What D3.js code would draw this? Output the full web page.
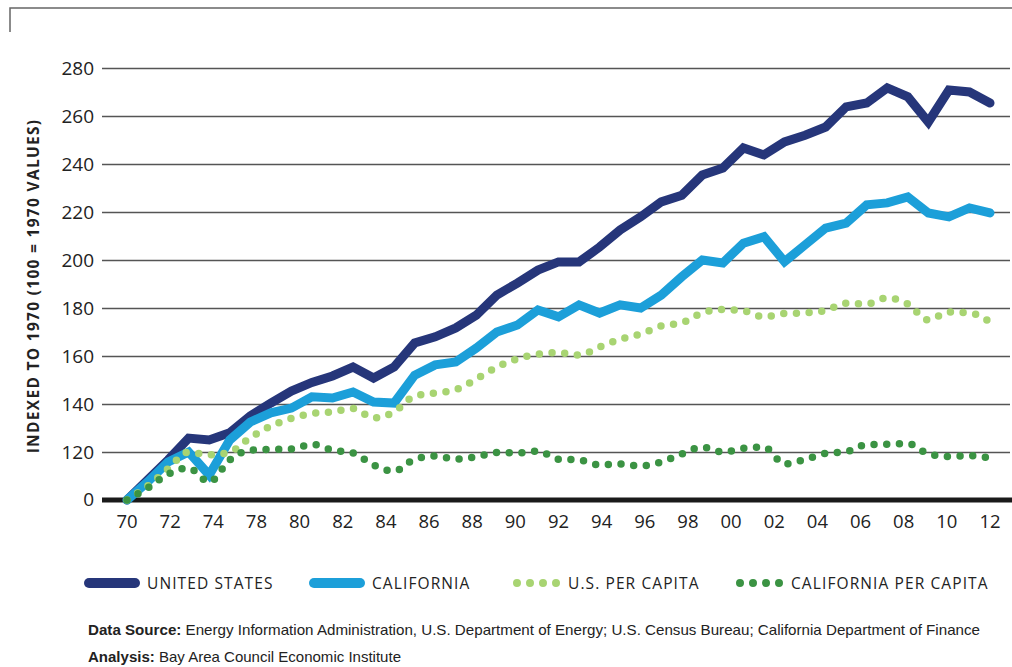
<!DOCTYPE html>
<html lang="en">
  <head>
    <meta charset="utf-8">
    <title>Energy Consumption Indexed to 1970</title>
    <script src="https://cdn.jsdelivr.net/npm/d3@7"></script>
    <style>
      body { margin: 0; background: #fff; }
      svg { display: block; font-family: "Open Sans", sans-serif; }
    </style>
  </head>
  <body>
    <svg width="1012" height="667"></svg>
    <script>

      // yearly values, 1970..2012, indexed to 1970 = 100
      var years = d3.range(1970, 2013);

      var unitedStates = [100, 108.3, 116.7, 125.8, 125, 128, 135, 140.4, 145.4, 149,
        151.7, 155.4, 150.8, 155.4, 165.4, 168, 171.7, 177, 185.4, 190.4,
        195.8, 199.2, 199.2, 205.4, 212.5, 218, 224.2, 227, 235.4, 238.3,
        246.7, 243.8, 249.2, 252, 255.4, 263.8, 265.4, 271.7, 268, 257.5,
        270.8, 270, 265.4];

      var california = [100, 107.5, 115.8, 120, 110.4, 125, 132.5, 136.3, 138.3, 143,
        142.5, 145, 140.8, 140.4, 152, 156.3, 157.5, 163.3, 170, 172.9,
        179.2, 176.3, 181.3, 177.9, 181.3, 180, 185.4, 193, 200, 198.8,
        207, 209.7, 199.3, 206.3, 213.3, 215.4, 223, 223.8, 226.3, 219.6,
        218, 221.7, 219.6];

      var usPerCapita = [100, 105.8, 113, 120, 118.8, 120, 126, 130.8, 134, 136,
        136.7, 138.1, 134.2, 136.7, 143.3, 144.6, 146, 150.4, 155.4, 158.8,
        160.8, 161.4, 160.4, 163.8, 167, 169.2, 172.5, 173.8, 178, 179.4,
        178.8, 176.3, 177.7, 178, 179, 182, 181.7, 184.2, 181.7, 175,
        178.3, 178, 174.2];

      var caPerCapita = [100, 105, 110.8, 113.3, 107.5, 116.7, 120.8, 121.1, 121.2, 123.2,
        120.8, 119.6, 114.6, 112, 117, 118.3, 117, 118, 119.8, 119.6,
        120.4, 117, 116.7, 114.6, 115, 114.2, 115.8, 119.2, 122, 120,
        121.5, 122, 115, 116.9, 119.4, 120.1, 123.1, 123.2, 123.5, 119.2,
        118.1, 118.5, 117.5];

      var xTickLabels = ["70", "72", "74", "78", "80", "82", "84", "86", "88", "90", "92",
        "94", "96", "98", "00", "02", "04", "06", "08", "10", "12"];
      var yTicks = [100, 120, 140, 160, 180, 200, 220, 240, 260, 280];
      var yTickLabels = ["0", "120", "140", "160", "180", "200", "220", "240", "260", "280"];

      var seriesNames = ["UNITED STATES", "CALIFORNIA", "U.S. PER CAPITA", "CALIFORNIA PER CAPITA"];
      var seriesColors = ["#26367a", "#1c9fd9", "#a8d472", "#3b9343"];

      var svg = d3.select("svg");

      var x = d3.scaleLinear().domain([1970, 2012]).range([127, 990]);
      var xTick = d3.scalePoint().domain(xTickLabels).range([127, 990]);
      var y = d3.scaleLinear().domain([100, 280]).range([500, 68]);

      // corner frame
      svg.append("path")
          .attr("d", "M10,32V8H1012")
          .attr("fill", "none")
          .attr("stroke", "#666")
          .attr("stroke-width", 1.5);

      // gridlines + y labels
      var yAxis = d3.axisLeft(y)
          .tickValues(yTicks.slice(1))
          .tickSize(-908)
          .tickFormat(function(d) { return yTickLabels[yTicks.indexOf(d)]; });

      var gy = svg.append("g")
          .attr("transform", "translate(102,0)")
          .call(yAxis);
      gy.select(".domain").remove();
      gy.selectAll(".tick line").attr("stroke", "#555").attr("stroke-width", 1.4);
      gy.selectAll(".tick text")
          .attr("x", -8)
          .attr("fill", "#222")
          .style("font-size", "19px")
          .style("font-family", "Open Sans, sans-serif");

      // zero label and heavy baseline
      svg.append("text")
          .attr("x", 94)
          .attr("y", y(100))
          .attr("dy", "0.34em")
          .attr("text-anchor", "end")
          .attr("fill", "#222")
          .style("font-size", "19px")
          .text(yTickLabels[0]);

      svg.append("line")
          .attr("x1", 102).attr("x2", 1012)
          .attr("y1", y(100)).attr("y2", y(100))
          .attr("stroke", "#1a1a1a")
          .attr("stroke-width", 5);

      // x labels
      svg.append("g")
        .selectAll("text")
        .data(xTickLabels)
        .enter().append("text")
          .attr("x", function(d) { return xTick(d); })
          .attr("y", 528)
          .attr("text-anchor", "middle")
          .attr("fill", "#222")
          .style("font-size", "18.5px")
          .text(function(d) { return d; });

      // y title
      svg.append("text")
          .attr("transform", "translate(39,286) rotate(-90)")
          .attr("text-anchor", "middle")
          .attr("fill", "#222")
          .style("font-size", "15.5px")
          .style("font-weight", "700")
          .style("letter-spacing", "1.3px")
          .text("INDEXED TO 1970 (100 = 1970 VALUES)");

      var solid = d3.line()
          .x(function(d, i) { return x(years[i]); })
          .y(function(d) { return y(d); });

      var smooth = d3.line()
          .curve(d3.curveMonotoneX)
          .x(function(d, i) { return x(years[i]); })
          .y(function(d) { return y(d); });

      function dotted(data, color) {
        svg.append("path")
            .attr("d", smooth(data))
            .attr("fill", "none")
            .attr("stroke", color)
            .attr("stroke-width", 7.5)
            .attr("stroke-linecap", "round")
            .attr("stroke-dasharray", "0,12.7");
      }

      function thick(data, color) {
        svg.append("path")
            .attr("d", solid(data))
            .attr("fill", "none")
            .attr("stroke", color)
            .attr("stroke-width", 9)
            .attr("stroke-linecap", "round")
            .attr("stroke-linejoin", "miter");
      }

      thick(unitedStates, seriesColors[0]);
      thick(california, seriesColors[1]);
      dotted(usPerCapita, seriesColors[2]);
      dotted(caPerCapita, seriesColors[3]);

      // legend
      var legendX = [84, 309, 513, 736];
      var lg = svg.append("g").attr("transform", "translate(0,583)");
      seriesNames.forEach(function(name, i) {
        var x0 = legendX[i];
        if (i < 2) {
          lg.append("line")
              .attr("x1", x0 + 5).attr("x2", x0 + 51)
              .attr("stroke", seriesColors[i])
              .attr("stroke-width", 10)
              .attr("stroke-linecap", "round");
        } else {
          lg.append("line")
              .attr("x1", x0 + 4).attr("x2", x0 + 44)
              .attr("stroke", seriesColors[i])
              .attr("stroke-width", 8)
              .attr("stroke-linecap", "round")
              .attr("stroke-dasharray", "0,13");
        }
        lg.append("text")
            .attr("x", x0 + (i < 2 ? 63 : 55))
            .attr("dy", "0.36em")
            .attr("fill", "#222")
            .style("font-size", "15.5px")
            .style("letter-spacing", "1.1px")
            .text(name);
      });

      // footer
      var foot = svg.append("g")
          .style("font-family", "Liberation Sans Narrow, Arial Narrow, sans-serif")
          .style("font-size", "14.5px")
          .attr("fill", "#222");

      var t1 = foot.append("text").attr("x", 88).attr("y", 635)
          .attr("textLength", 892).attr("lengthAdjust", "spacingAndGlyphs");
      t1.append("tspan").style("font-weight", "700").text("Data Source:");
      t1.append("tspan").text(" Energy Information Administration, U.S. Department of Energy; U.S. Census Bureau; California Department of Finance");

      var t2 = foot.append("text").attr("x", 88).attr("y", 662)
          .attr("textLength", 313).attr("lengthAdjust", "spacingAndGlyphs");
      t2.append("tspan").style("font-weight", "700").text("Analysis:");
      t2.append("tspan").text(" Bay Area Council Economic Institute");

    </script>
  </body>
</html>
